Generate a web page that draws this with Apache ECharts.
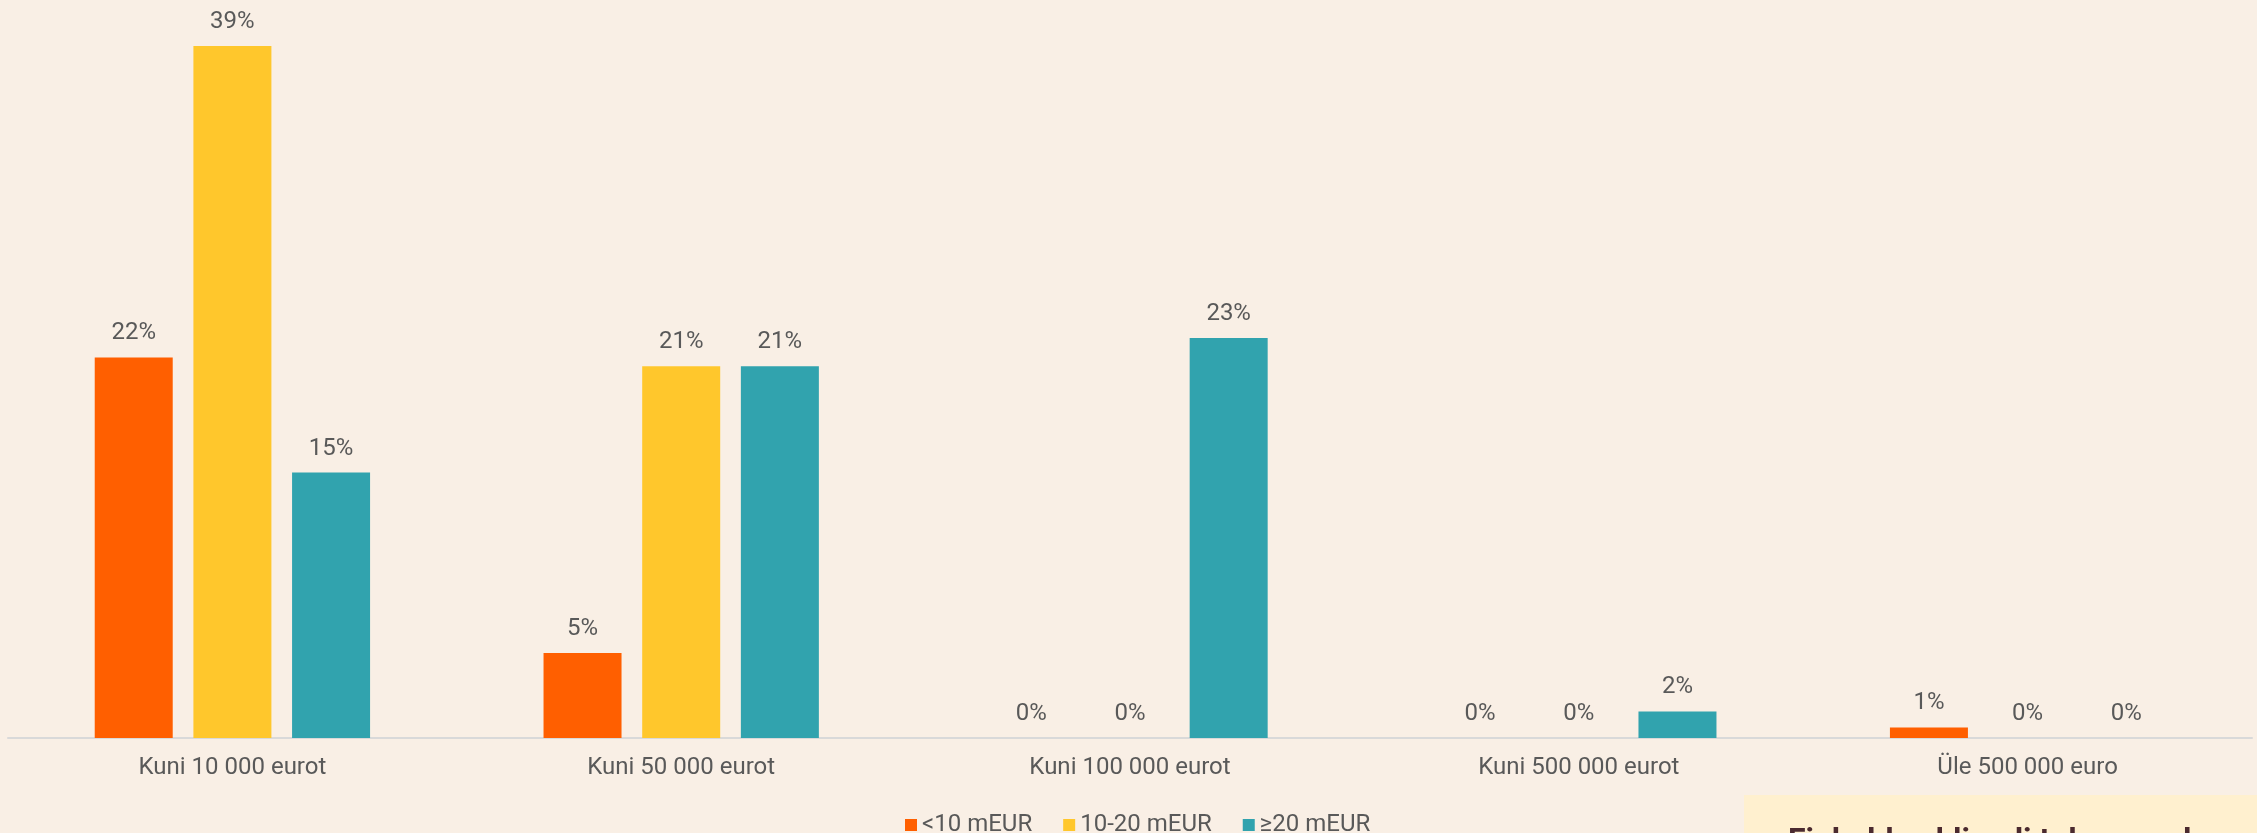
<!DOCTYPE html>
<html>
<head>
<meta charset="utf-8">
<script src="https://cdn.jsdelivr.net/npm/echarts@6/dist/echarts.min.js"></script>
<style>
html,body{margin:0;padding:0;background:#F9EFE5;}
#c{width:2257px;height:833px;}
</style>
</head>
<body>
<div id="c"></div>
<script>
const categories = ['Kuni 10 000 eurot', 'Kuni 50 000 eurot', 'Kuni 100 000 eurot', 'Kuni 500 000 eurot', 'Üle 500 000 euro'];
const seriesNames = ['<10 mEUR', '10-20 mEUR', '≥20 mEUR'];
const lowValues = [21.5, 4.8, 0, 0, 0.6];
const midValues = [39.1, 21.0, 0, 0, 0];
const highValues = [15.0, 21.0, 22.6, 1.5, 0];
const colors = ['#FF5F00', '#FFC72C', '#31A3AE'];
const noteText = 'Finhaldus kliendi tulemused';

const chart = echarts.init(document.getElementById('c'));
const font = 'Roboto, "Noto Sans", sans-serif';
function mk(name, data, color) {
  return {
    name: name, type: 'bar', data: data, barWidth: 78, barGap: '26.5%',
    itemStyle: { color: color },
    label: { show: true, position: 'top', distance: 12, fontSize: 24, fontFamily: font, color: '#595959',
      formatter: p => Math.round(p.value) + '%' },
    emphasis: { disabled: true }
  };
}
chart.setOption({
  backgroundColor: '#F9EFE5',
  animation: false,
  grid: { left: 8, right: 5, top: 30, bottom: 95, containLabel: false },
  legend: {
    data: seriesNames, left: 900, top: 807, icon: 'rect', itemWidth: 12, itemHeight: 12, itemGap: 31,
    textStyle: { fontSize: 24, fontFamily: font, color: '#595959', lineHeight: 26 }
  },
  xAxis: {
    type: 'category', data: categories,
    axisLine: { show: true, lineStyle: { color: '#D9D9D9', width: 2 } },
    axisTick: { show: false },
    axisLabel: { fontSize: 24, fontFamily: font, color: '#595959', margin: 18 }
  },
  yAxis: { type: 'value', min: 0, max: 40, show: false, splitLine: { show: false } },
  series: [mk(seriesNames[0], lowValues, colors[0]), mk(seriesNames[1], midValues, colors[1]), mk(seriesNames[2], highValues, colors[2])],
  graphic: [
    { type: 'rect', left: 1744, top: 795, shape: { width: 520, height: 60 }, style: { fill: '#FFF0CF' }, z: 10 },
    { type: 'text', left: 1788, top: 826, style: { text: noteText, fontSize: 32, fontWeight: 'bold', fontFamily: font, fill: '#4B2A2F' }, z: 11 }
  ]
});
</script>
</body>
</html>
